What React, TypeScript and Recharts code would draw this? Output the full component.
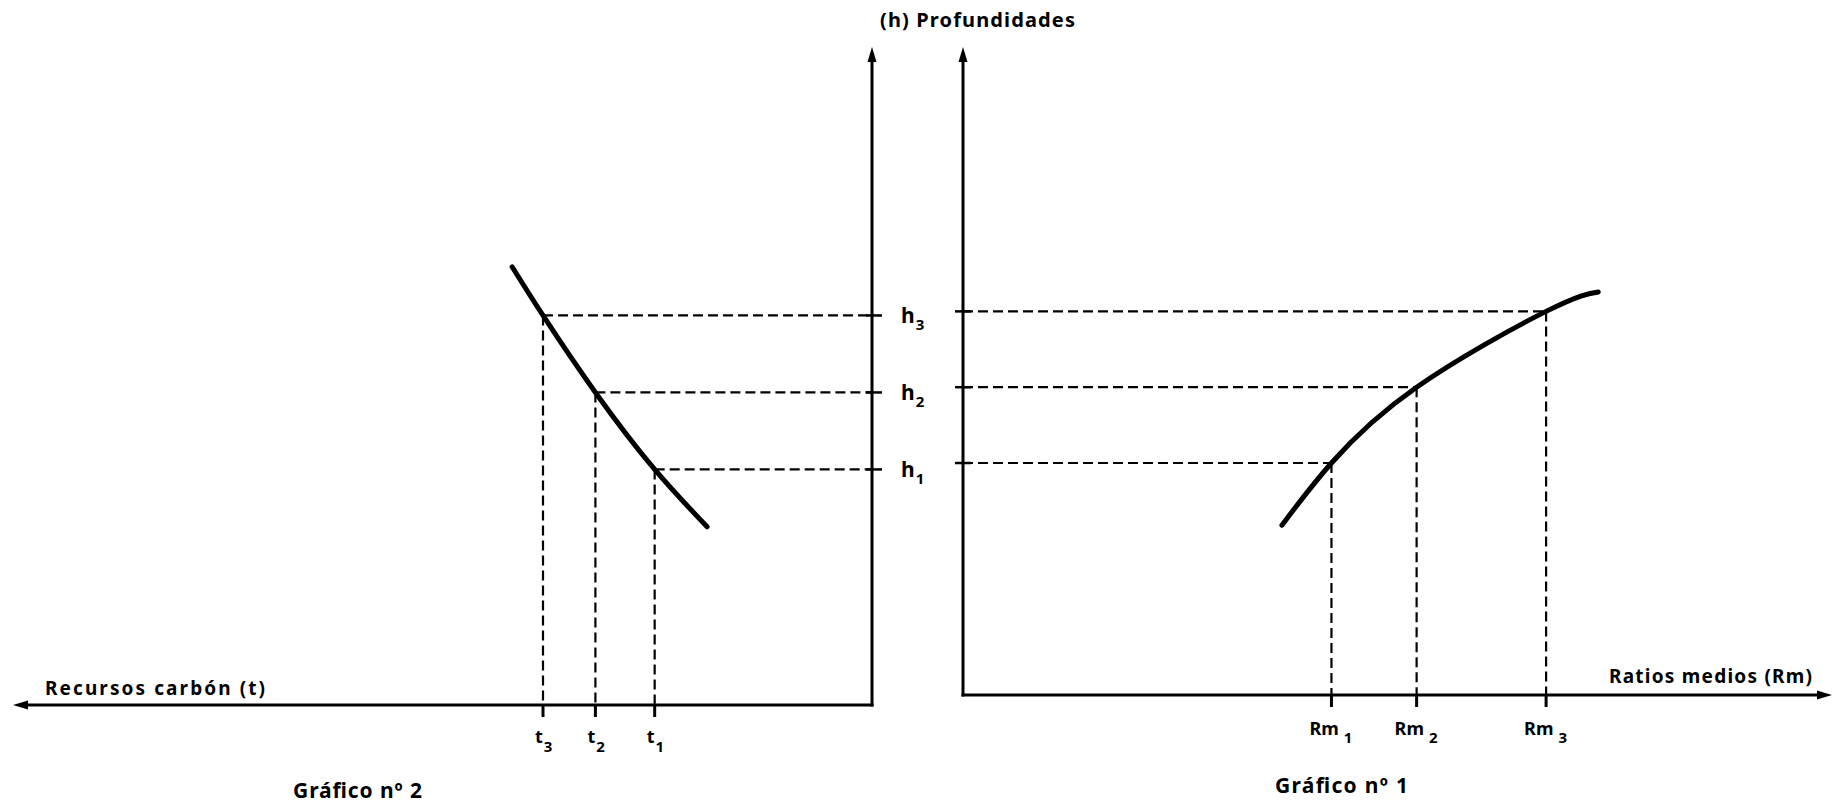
import React from 'react';
import { LineChart, Line, XAxis, YAxis, ReferenceLine } from 'recharts';

// ---- data ----
const H_LEVELS = [35.8, 47.5, 59.2]; // h1, h2, h3 (Profundidades)
const H_SUBS = ['1', '2', '3'];
const T_LEVELS = [25.3, 32.2, 38.3]; // t1, t2, t3 (Recursos carbón)
const T_SUBS = ['1', '2', '3'];
const RM_LEVELS = [42.4, 52.2, 67.1]; // Rm1, Rm2, Rm3 (Ratios medios)
const RM_SUBS = ['1', '2', '3'];

// Gráfico nº 2 curve: recursos (t) vs profundidad (h)
const CURVE2_T = [41.9, 38.3, 32.2, 25.3, 19.2];
const CURVE2_H = [66.6, 59.2, 47.5, 35.8, 27.1];
// Gráfico nº 1 curve: ratio medio (Rm) vs profundidad (h)
const CURVE1_RM = [36.7, 42.4, 52.2, 67.1, 73.1];
const CURVE1_H = [26.2, 35.8, 47.5, 59.2, 62.2];

const AXIS_DOMAIN: [number, number] = [0, 100];

const curve2 = CURVE2_T.map((t, i) => ({ t, h: CURVE2_H[i] }));
const curve1 = CURVE1_RM.map((rm, i) => ({ rm, h: CURVE1_H[i] }));

const FONT = "'Noto Sans', 'DejaVu Sans', sans-serif";
const INK = '#000';

const arrowShape = (props: any) => {
  const { x1, y1, x2, y2 } = props;
  const dx = x2 - x1;
  const dy = y2 - y1;
  const len = Math.hypot(dx, dy) || 1;
  const ux = dx / len;
  const uy = dy / len;
  const L = 15;
  const W = 4.5;
  const bx = x2 - ux * L;
  const by = y2 - uy * L;
  const px = -uy * W;
  const py = ux * W;
  return (
    <g>
      <line x1={x1} y1={y1} x2={bx + ux * 3} y2={by + uy * 3} stroke={INK} strokeWidth={3} strokeLinecap="square" />
      <polygon points={`${x2},${y2} ${bx + px},${by + py} ${bx - px},${by - py}`} fill={INK} />
    </g>
  );
};

const subLabel = (x: number, y: number, main: string, sub: string, size: number, subSize: number, dx: number, dy: number) => (
  <text x={x} y={y} fontFamily={FONT} fontWeight={700} fontSize={size} fill={INK}>
    {main}
    <tspan dx={dx} dy={dy} fontSize={subSize}>{sub}</tspan>
  </text>
);

const TTick = (props: any) => {
  const { x, y, payload } = props;
  const i = T_LEVELS.indexOf(payload.value);
  return (
    <g>
      <line x1={x} y1={y} x2={x} y2={y + 12} stroke={INK} strokeWidth={3} />
      {subLabel(x - 8, y + 38, 't', T_SUBS[i] ?? '', 18, 15, 1, 9)}
    </g>
  );
};

const RmTick = (props: any) => {
  const { x, y, payload } = props;
  const i = RM_LEVELS.indexOf(payload.value);
  return (
    <g>
      <line x1={x} y1={y} x2={x} y2={y + 12} stroke={INK} strokeWidth={3} />
      {subLabel(x - 22, y + 40, 'Rm', RM_SUBS[i] ?? '', 18, 15, 5, 8)}
    </g>
  );
};

const HTick = (props: any) => {
  const { x, y, payload } = props;
  const i = H_LEVELS.indexOf(payload.value);
  return (
    <g>
      <line x1={x - 6} y1={y} x2={x + 10} y2={y} stroke={INK} strokeWidth={2.5} />
      {subLabel(x + 29, y + 8, 'h', H_SUBS[i] ?? '', 21, 15, 1, 7)}
    </g>
  );
};

const CrossTick = (props: any) => {
  const { x, y } = props;
  return <line x1={x - 8} y1={y} x2={x + 8} y2={y} stroke={INK} strokeWidth={2.5} />;
};

const dash = { stroke: INK, strokeWidth: 2.2, strokeDasharray: '10 5' };

export default function App() {
  return (
    <div style={{ position: 'absolute', left: 0, top: 0, width: 1845, height: 806, background: '#fff', overflow: 'hidden' }}>
      {/* Gráfico nº 2 (left) */}
      <div style={{ position: 'absolute', left: 0, top: 0 }}>
        <LineChart width={960} height={806} data={curve2} margin={{ top: 47, right: 0, bottom: 71, left: 13 }}>
          <XAxis
            dataKey="t"
            type="number"
            domain={AXIS_DOMAIN}
            reversed
            ticks={T_LEVELS}
            height={30}
            axisLine={false}
            tickLine={false}
            tickSize={0}
            tickMargin={0}
            tick={<TTick />}
            interval={0}
          />
          <YAxis
            orientation="right"
            type="number"
            domain={AXIS_DOMAIN}
            ticks={H_LEVELS}
            width={88}
            axisLine={false}
            tickLine={false}
            tickSize={0}
            tickMargin={0}
            tick={<HTick />}
            interval={0}
          />
          {H_LEVELS.map((h, i) => (
            <ReferenceLine key={`h2-${i}`} segment={[{ x: T_LEVELS[i], y: h }, { x: 0, y: h }]} {...dash} />
          ))}
          {T_LEVELS.map((t, i) => (
            <ReferenceLine key={`t-${i}`} segment={[{ x: t, y: H_LEVELS[i] }, { x: t, y: 0 }]} {...dash} />
          ))}
          <ReferenceLine segment={[{ x: 0, y: 0 }, { x: AXIS_DOMAIN[1], y: 0 }]} shape={arrowShape} />
          <ReferenceLine segment={[{ x: 0, y: 0 }, { x: 0, y: AXIS_DOMAIN[1] }]} shape={arrowShape} />
          <Line dataKey="h" type="natural" stroke={INK} strokeWidth={5} dot={false} isAnimationActive={false} strokeLinecap="round" />
        </LineChart>
      </div>

      {/* Gráfico nº 1 (right) */}
      <div style={{ position: 'absolute', left: 900, top: 0 }}>
        <LineChart width={945} height={806} data={curve1} margin={{ top: 47, right: 13, bottom: 81, left: 0 }}>
          <XAxis
            dataKey="rm"
            type="number"
            domain={AXIS_DOMAIN}
            ticks={RM_LEVELS}
            height={30}
            axisLine={false}
            tickLine={false}
            tickSize={0}
            tickMargin={0}
            tick={<RmTick />}
            interval={0}
          />
          <YAxis
            type="number"
            domain={AXIS_DOMAIN}
            ticks={H_LEVELS}
            width={63}
            axisLine={false}
            tickLine={false}
            tickSize={0}
            tickMargin={0}
            tick={<CrossTick />}
            interval={0}
          />
          {H_LEVELS.map((h, i) => (
            <ReferenceLine key={`h1-${i}`} segment={[{ x: 0, y: h }, { x: RM_LEVELS[i], y: h }]} {...dash} />
          ))}
          {RM_LEVELS.map((r, i) => (
            <ReferenceLine key={`r-${i}`} segment={[{ x: r, y: H_LEVELS[i] }, { x: r, y: 0 }]} {...dash} />
          ))}
          <ReferenceLine segment={[{ x: 0, y: 0 }, { x: AXIS_DOMAIN[1], y: 0 }]} shape={arrowShape} />
          <ReferenceLine segment={[{ x: 0, y: 0 }, { x: 0, y: AXIS_DOMAIN[1] }]} shape={arrowShape} />
          <Line dataKey="h" type="natural" stroke={INK} strokeWidth={5} dot={false} isAnimationActive={false} strokeLinecap="round" />
        </LineChart>
      </div>

      {/* titles */}
      <svg width={1845} height={806} style={{ position: 'absolute', left: 0, top: 0, pointerEvents: 'none' }}>
        <g fontFamily={FONT} fontWeight={700} fill={INK}>
          <text x={880} y={27} fontSize={20} textLength={195} lengthAdjust="spacing">(h) Profundidades</text>
          <text x={45} y={695} fontSize={19} textLength={220} lengthAdjust="spacing">Recursos carbón (t)</text>
          <text x={1609} y={683} fontSize={19} textLength={203} lengthAdjust="spacing">Ratios medios (Rm)</text>
          <text x={293} y={798} fontSize={21} textLength={129} lengthAdjust="spacing">Gráfico nº 2</text>
          <text x={1275} y={793} fontSize={21} textLength={133} lengthAdjust="spacing">Gráfico nº 1</text>
        </g>
      </svg>
    </div>
  );
}
